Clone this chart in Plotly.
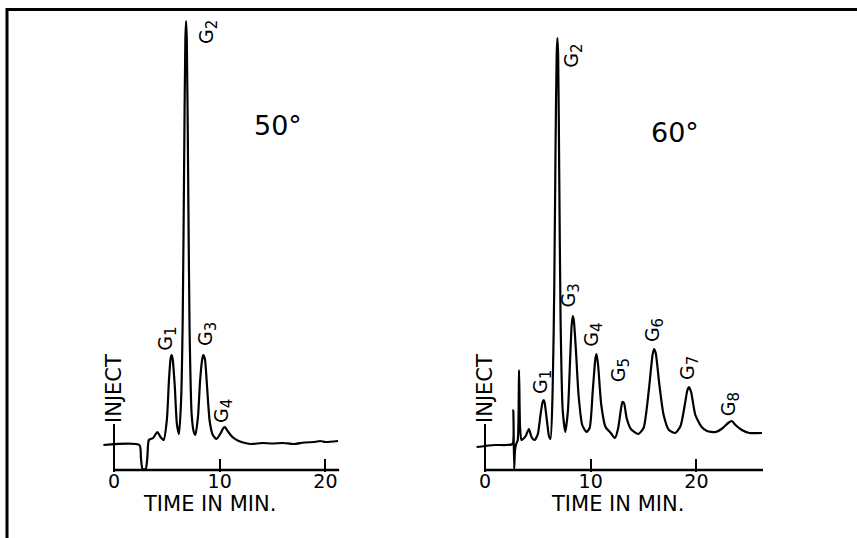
import plotly.graph_objects as go

# ---- chromatogram traces: time (min) and detector response (arbitrary units) ----
t50 = [-1.0, 2.4, 2.55, 2.7, 3.0, 3.15, 3.3, 3.7, 4.1, 4.4, 4.7, 5.0, 5.2, 5.35, 5.45,
       5.55, 5.75, 5.95, 6.15, 6.35, 6.5, 6.63, 6.75, 6.82, 6.89, 7.01, 7.15, 7.35, 7.55,
       7.7, 7.95, 8.15, 8.35, 8.45, 8.6, 8.8, 9.05, 9.35, 9.7, 10.1, 10.35, 10.5, 10.75,
       11.2, 11.8, 12.4, 13.0, 14.0, 15.0, 16.0, 17.0, 18.0, 19.0, 19.5, 20.0, 21.2]
r50 = [25, 25, 12, 1, 1, 12, 30, 32, 38, 33, 30, 50, 90, 111, 115,
       111, 84, 46, 36, 70, 150, 300, 430, 449, 430, 300, 140, 55, 38,
       35, 54, 90, 111, 115, 111, 84, 49, 35, 31, 37, 42, 43, 39,
       33, 29, 27, 26, 27, 26.5, 27, 26, 27.5, 28, 29, 28, 29]

t60 = [-0.8, 0.0, 1.0, 2.0, 2.6, 2.68, 2.76, 2.84, 2.95, 3.1, 3.22, 3.32, 3.45, 3.6, 3.85,
       4.15, 4.4, 4.7, 5.0, 5.25, 5.45, 5.55, 5.65, 5.85, 6.05, 6.2, 6.4, 6.55, 6.68,
       6.78, 6.85, 6.92, 7.02, 7.15, 7.35, 7.6, 7.85, 8.05, 8.2, 8.3, 8.4, 8.6, 8.85,
       9.2, 9.6, 9.9, 10.2, 10.45, 10.55, 10.7, 11.0, 11.4, 11.9, 12.3, 12.6, 12.85, 13.0,
       13.15, 13.4, 13.8, 14.5, 15.0, 15.5, 15.85, 16.0, 16.15, 16.5, 16.9, 17.4, 18.0,
       18.5, 18.9, 19.15, 19.3, 19.5, 19.9, 20.5, 21.0, 21.8, 22.5, 23.0, 23.35, 23.7,
       24.3, 25.0, 26.2]
r60 = [23, 24, 25, 25, 26, 60, 1, 20, 26, 30, 100, 42, 30, 31, 34,
       41, 33, 30, 36, 55, 68, 70, 67, 50, 34, 31, 80, 180, 330,
       415, 432, 415, 300, 150, 60, 38, 60, 110, 145, 154, 150, 120, 75,
       45, 38, 42, 80, 112, 116, 105, 65, 43, 37, 32, 42, 60, 68,
       67, 52, 41, 36, 42, 80, 115, 121, 117, 85, 55, 40, 37,
       44, 65, 80, 83, 78, 55, 43, 39, 38, 42, 47, 49, 45,
       40, 37, 37]

# ---- peak labels: (component number, time, response) ----
labels50 = [(1, 5.0, 131), (2, 8.9, 438), (3, 8.8, 136), (4, 10.3, 59)]
labels60 = [(1, 5.4, 88), (2, 8.3, 414), (3, 8.0, 174), (4, 10.2, 135),
            (5, 12.8, 100), (6, 16.0, 140), (7, 19.3, 102), (8, 23.2, 66)]

tick_vals = [0, 10, 20]
tick_text = ["0", "10", "20"]

# ---- page geometry ----
W, H = 857, 538
PX_PER_MIN = 10.57
AXIS_PX = 472          # bottom edge of the plotting area (px from top)
FONT = "DejaVu Sans"

panels = [
    dict(x0=114, rng=(-1.2, 21.5), end=21.3, t=t50, r=r50, lab=labels50,
         temp="50°", temp_pos=(15.5, 345), title_t=9.0),
    dict(x0=485, rng=(-1.2, 26.8), end=26.3, t=t60, r=r60, lab=labels60,
         temp="60°", temp_pos=(18.0, 338), title_t=12.5),
]


def peak_label(k):
    return "G<sub><span style='font-size:15px'>%d</span></sub>" % k


fig = go.Figure()
layout_axes = {}
annotations = []
shapes = []

for i, p in enumerate(panels):
    n = "" if i == 0 else str(i + 1)
    xa, ya = "x" + n, "y" + n
    lo, hi = p["rng"]
    d0 = (p["x0"] + lo * PX_PER_MIN) / W
    d1 = (p["x0"] + hi * PX_PER_MIN) / W
    layout_axes["xaxis" + n] = dict(
        domain=[d0, d1], range=[lo, hi], anchor=ya,
        showgrid=False, zeroline=False, showline=False,
        ticks="inside", ticklen=13, tickwidth=2, tickcolor="black",
        tickvals=tick_vals, ticktext=tick_text, ticklabelstandoff=-4,
        tickfont=dict(family=FONT, size=19, color="black"),
    )
    layout_axes["yaxis" + n] = dict(
        domain=[(H - AXIS_PX) / H, 1], range=[-2, AXIS_PX - 2], anchor=xa,
        visible=False,
    )
    # time axis line
    fig.add_trace(go.Scatter(x=[0, p["end"]], y=[0, 0], mode="lines",
                             line=dict(color="black", width=2.5),
                             xaxis=xa, yaxis=ya, hoverinfo="skip"))
    # detector trace
    fig.add_trace(go.Scatter(x=p["t"], y=p["r"], mode="lines",
                             line=dict(color="black", width=2.2, shape="spline",
                                       smoothing=0.6),
                             xaxis=xa, yaxis=ya))
    # injection marker
    shapes.append(dict(type="line", xref=xa, yref=ya, x0=0, x1=0, y0=0, y1=46,
                       line=dict(color="black", width=2)))
    annotations.append(dict(text="INJECT", x=0, y=82, xref=xa, yref=ya,
                            showarrow=False, textangle=-90,
                            font=dict(family=FONT, size=21, color="black")))
    for k, tx, ry in p["lab"]:
        annotations.append(dict(text=peak_label(k), x=tx, y=ry, xref=xa, yref=ya,
                                showarrow=False, textangle=-90,
                                font=dict(family=FONT, size=19, color="black")))
    annotations.append(dict(text=p["temp"], x=p["temp_pos"][0], y=p["temp_pos"][1],
                            xref=xa, yref=ya, showarrow=False,
                            font=dict(family=FONT, size=27, color="black")))
    annotations.append(dict(text="TIME IN MIN.", x=p["title_t"], y=1 - 518 / H,
                            xref=xa, yref="paper", showarrow=False,
                            font=dict(family=FONT, size=21, color="black")))

# outer frame (top and left edges)
shapes.append(dict(type="line", xref="paper", yref="paper",
                   x0=6 / W, x1=1, y0=1 - 9.5 / H, y1=1 - 9.5 / H,
                   line=dict(color="black", width=3)))
shapes.append(dict(type="line", xref="paper", yref="paper",
                   x0=7 / W, x1=7 / W, y0=0, y1=1 - 8 / H,
                   line=dict(color="black", width=3)))

fig.update_layout(
    width=W, height=H, margin=dict(l=0, r=0, t=0, b=0),
    paper_bgcolor="white", plot_bgcolor="rgba(0,0,0,0)",
    showlegend=False, annotations=annotations, shapes=shapes,
    **layout_axes,
)

fig.write_html("out.html")
